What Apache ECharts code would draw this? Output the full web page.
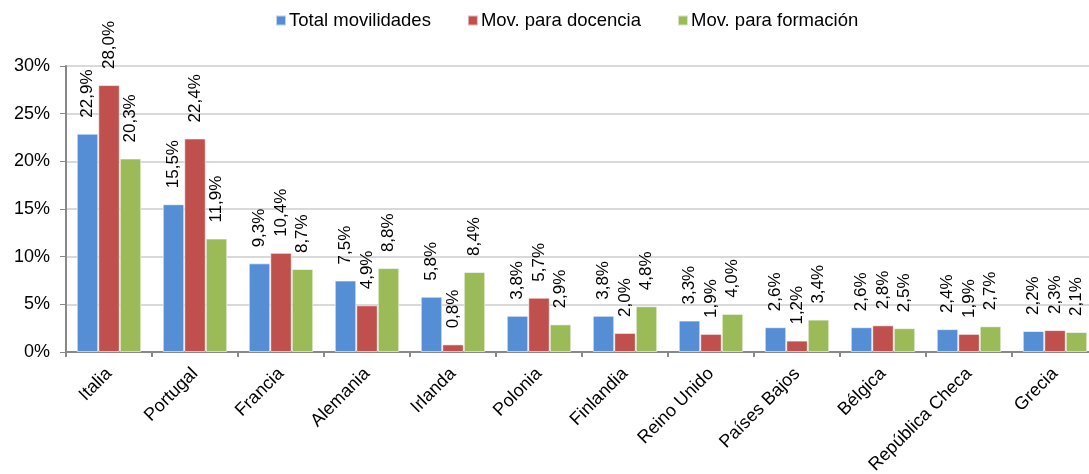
<!DOCTYPE html>
<html lang="es">
  <head>
    <meta charset="UTF-8" />
    <title>Movilidades por país</title>
    <script src="https://cdn.jsdelivr.net/npm/echarts@6/dist/echarts.min.js"></script>
    <style>
      body { margin: 0; background: #fff; }
    </style>
  </head>
  <body>
    <div id="main" style="width: 1089px; height: 474px"></div>
    <script type="text/javascript">
      // datos (%)
      const countries = ["Italia", "Portugal", "Francia", "Alemania", "Irlanda", "Polonia",
        "Finlandia", "Reino Unido", "Países Bajos", "Bélgica", "República Checa", "Grecia"];
      const totalMov = [22.9, 15.5, 9.3, 7.5, 5.8, 3.8, 3.8, 3.3, 2.6, 2.6, 2.4, 2.2];
      const movDocencia = [28.0, 22.4, 10.4, 4.9, 0.8, 5.7, 2.0, 1.9, 1.2, 2.8, 1.9, 2.3];
      const movFormacion = [20.3, 11.9, 8.7, 8.8, 8.4, 2.9, 4.8, 4.0, 3.4, 2.5, 2.7, 2.1];
      const seriesNames = ["Total movilidades", "Mov. para docencia", "Mov. para formación"];
      const colors = ["#558ed5", "#c0504d", "#9bbb59"];

      const font = "Liberation Sans, Arial, sans-serif";

      function makeSeries(name, data, color) {
        return {
          name: name,
          type: "bar",
          data: data,
          barGap: "0%",
          barCategoryGap: "25%",
          itemStyle: { color: color, borderColor: "rgba(255,255,255,0.6)", borderWidth: 1 },
          label: {
            show: true,
            position: "top",
            rotate: 90,
            align: "left",
            verticalAlign: "middle",
            distance: 16,
            fontFamily: font,
            fontSize: 17,
            color: "#000",
            formatter: (p) => p.value.toFixed(1).replace(".", ",") + "%",
          },
        };
      }

      let options = {
        animation: false,
        textStyle: { fontFamily: font },
        legend: {
          top: 11,
          left: 275,
          padding: 0,
          itemWidth: 10,
          itemHeight: 10,
          itemGap: 36,
          icon: "rect",
          textStyle: { fontSize: 18.5, color: "#000", fontFamily: font, padding: [0, 0, 0, -2] },
        },
        grid: { left: 66, right: -9, top: 66, bottom: 122, containLabel: false, outerBoundsMode: "none" },
        xAxis: {
          type: "category",
          data: countries,
          axisLine: { lineStyle: { color: "#888", width: 2 } },
          axisTick: { show: true, length: 5, lineStyle: { color: "#888", width: 2 } },
          axisLabel: {
            interval: 0,
            rotate: 45,
            fontSize: 18,
            color: "#000",
            fontFamily: font,
            margin: 19,
          },
        },
        yAxis: {
          type: "value",
          min: 0,
          max: 30,
          interval: 5,
          axisLine: { show: true, lineStyle: { color: "#888", width: 2 } },
          axisTick: { show: true, length: 6, lineStyle: { color: "#888", width: 1 } },
          splitLine: { lineStyle: { color: "#d9d9d9", width: 2 } },
          axisLabel: {
            fontSize: 18,
            color: "#000",
            fontFamily: font,
            margin: 16,
            formatter: "{value}%",
          },
        },
        series: [
          makeSeries(seriesNames[0], totalMov, colors[0]),
          makeSeries(seriesNames[1], movDocencia, colors[1]),
          makeSeries(seriesNames[2], movFormacion, colors[2]),
        ],
      };

      let myChart = echarts.init(document.getElementById("main"));
      myChart.setOption(options);
    </script>
  </body>
</html>
